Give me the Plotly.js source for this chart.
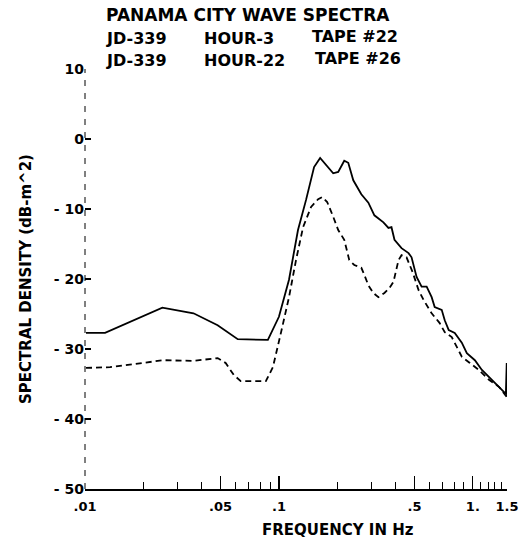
<!DOCTYPE html>
<html>
<head>
<meta charset="utf-8">
<script src="https://cdn.plot.ly/plotly-3.0.1.min.js"></script>
<style>html,body{margin:0;padding:0;background:#fff;}#chart{width:522px;height:545px;}</style>
</head>
<body>
<div id="chart"></div>
<script>
// Hour-3 (Tape #22) spectrum - solid line
const freqHour3 = [0.01012,0.01269,0.02506,0.03627,0.04830,0.06132,0.08770,0.1000,0.1127,0.1254,0.1380,0.1518,0.1631,0.1905,0.2022,0.2172,0.2278,0.2418,0.2660,0.2892,0.3106,0.3458,0.3671,0.3805,0.3944,0.4287,0.4660,0.4830,0.5127,0.5442,0.5778,0.6132,0.6356,0.6909,0.7161,0.7510,0.8065,0.8770,0.9310,1.0243,1.1133,1.2104,1.3002,1.4136,1.4800,1.4950,1.5005];
const dbHour3   = [-27.7,-27.7,-24.1,-24.9,-26.6,-28.6,-28.7,-25.4,-20.1,-13.0,-8.7,-4.0,-2.7,-4.9,-4.7,-3.1,-3.4,-5.9,-7.9,-9.1,-10.9,-11.9,-12.7,-12.6,-14.4,-15.6,-16.3,-16.9,-19.7,-21.1,-21.1,-22.6,-24.0,-24.4,-25.9,-27.3,-27.7,-29.1,-30.6,-31.6,-33.0,-34.0,-34.9,-35.9,-36.4,-32.0,-36.8];
// Hour-22 (Tape #26) spectrum - dashed line
const freqHour22 = [0.01012,0.01347,0.02536,0.03627,0.04830,0.05313,0.05845,0.06355,0.08562,0.09310,0.1024,0.1127,0.1225,0.1332,0.1465,0.1593,0.1670,0.1773,0.1905,0.2022,0.2172,0.2306,0.2447,0.2660,0.2756,0.2892,0.3069,0.3258,0.3499,0.3715,0.3897,0.4039,0.4137,0.4287,0.4550,0.4888,0.5251,0.5573,0.6132,0.6745,0.7161,0.7784,0.8770,0.9650,1.0743,1.2104,1.3640,1.5005];
const dbHour22   = [-32.7,-32.6,-31.6,-31.7,-31.3,-32.0,-33.7,-34.6,-34.6,-32.6,-27.7,-22.6,-17.3,-12.6,-9.7,-8.6,-8.3,-9.0,-11.1,-13.0,-14.4,-17.3,-18.0,-18.4,-19.4,-20.9,-22.0,-22.6,-22.0,-21.3,-20.4,-18.7,-17.3,-16.6,-16.9,-19.0,-21.6,-23.0,-24.9,-26.3,-27.6,-28.3,-31.1,-32.0,-33.0,-34.4,-35.4,-36.9];

const xTickVals  = [0.01,0.05,0.1,0.5,1,1.5];
const xTickText  = ['.01','.05','.1','.5','1.','1.5'];
const xMinorVals = [0.02,0.03,0.04,0.06,0.07,0.08,0.09,0.2,0.3,0.4,0.6,0.7,0.8,0.9,1.1,1.2,1.3,1.4];
const yTickVals  = [-50,-40,-30,-20,-10,0,10];
const yTickText  = ['- 50','- 40','- 30','- 20','- 10','0','10'];

const FONT = 'DejaVu Sans, Verdana, sans-serif';
const bold = a => a.map(t => '<b>' + t + '</b>');

const traces = [
  {x: freqHour3, y: dbHour3, mode: 'lines', name: 'HOUR-3', line: {color: '#000', width: 1.8}, showlegend: false},
  {x: freqHour22, y: dbHour22, mode: 'lines', name: 'HOUR-22', line: {color: '#000', width: 1.8, dash: '6px,4px'}, showlegend: false}
];

function px2x(p){ return (p - 85) / 422; }
function py2y(p){ return (489 - p) / 420; }
function ann(text, px, py, size, anchor){
  return {text: '<b>' + text + '</b>', xref: 'paper', yref: 'paper', x: px2x(px), y: py2y(py),
          xanchor: anchor || 'left', yanchor: 'middle', showarrow: false,
          font: {family: FONT, size: size || 15, color: '#000'}};
}

const layout = {
  width: 522, height: 545,
  margin: {l: 85, r: 15, t: 69, b: 56},
  paper_bgcolor: '#fff', plot_bgcolor: '#fff',
  showlegend: false,
  font: {family: FONT, color: '#000'},
  xaxis: {
    type: 'log', range: [Math.log10(0.01), Math.log10(1.5)],
    tickmode: 'array', tickvals: xTickVals, ticktext: bold(xTickText),
    ticks: 'inside', ticklen: 13, tickwidth: 1.2, tickcolor: '#000',
    ticklabelstandoff: 5,
    minor: {tickmode: 'array', tickvals: xMinorVals, ticks: 'inside', ticklen: 7, tickwidth: 1, tickcolor: '#000', showgrid: false},
    showline: true, linecolor: '#000', linewidth: 1.5, mirror: false,
    showgrid: false, zeroline: false,
    tickfont: {family: FONT, size: 13, color: '#000'}
  },
  yaxis: {
    range: [-50, 10],
    tickmode: 'array', tickvals: yTickVals, ticktext: bold(yTickText),
    ticks: 'inside', ticklen: 6, tickwidth: 1.5, tickcolor: '#000',
    showline: false, showgrid: false, zeroline: false,
    tickfont: {family: FONT, size: 14, color: '#000'},
    title: {text: '<b>SPECTRAL DENSITY (dB-m^2)</b>', font: {family: FONT, size: 15, color: '#000'}, standoff: 18}
  },
  shapes: [
    {type: 'line', xref: 'paper', yref: 'paper', x0: 0, x1: 0, y0: 0, y1: 1,
     line: {color: '#000', width: 1, dash: '6px,7px'}}
  ],
  annotations: [
    ann('PANAMA CITY WAVE SPECTRA', 104, 15, 17),
    ann('JD-339', 104, 38, 16), ann('HOUR-3', 202, 38, 16), ann('TAPE #22', 310, 36, 16),
    ann('JD-339', 104, 60, 16), ann('HOUR-22', 202, 60, 16), ann('TAPE #26', 313, 58, 16),
    ann('FREQUENCY IN Hz', 338, 530, 15, 'center')
  ]
};

Plotly.newPlot('chart', traces, layout, {displayModeBar: false, staticPlot: true});
</script>
</body>
</html>
